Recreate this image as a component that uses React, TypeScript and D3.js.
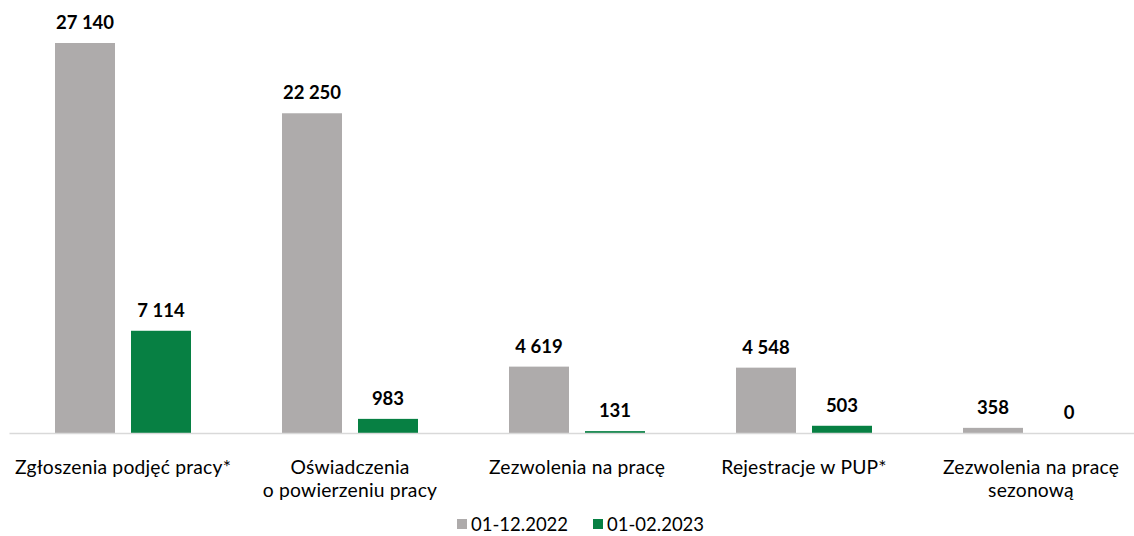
import React from "react";
import * as d3 from "d3";

const categories = [
  ["Zgłoszenia podjęć pracy*"],
  ["Oświadczenia", "o powierzeniu pracy"],
  ["Zezwolenia na pracę"],
  ["Rejestracje w PUP*"],
  ["Zezwolenia na pracę", "sezonową"],
];
const series = ["01-12.2022", "01-02.2023"];
const values2022 = [27140, 22250, 4619, 4548, 358];
const values2023 = [7114, 983, 131, 503, 0];
const colors = ["#AEABAB", "#078043"];

const W = 1134;
const H = 536;
const fmt = (v: number) => d3.format(",")(v).replace(/,/g, " ");

export default function App() {
  const x = d3
    .scaleBand<number>()
    .domain(d3.range(categories.length))
    .range([9.5, 1144.5]);
  const y = d3.scaleLinear().domain([0, 27140]).range([433, 43]);
  const barW = 60;
  const gap = 16;
  const data = [values2022, values2023];
  const font = "Lato, 'Open Sans', sans-serif";

  return (
    <svg
      width={W}
      height={H}
      style={{ position: "absolute", left: 0, top: 0 }}
      fontFamily={font}
    >
      <rect width={W} height={H} fill="#fff" />
      {categories.map((cat, i) => {
        const c = x(i)! + x.bandwidth() / 2;
        return (
          <g key={i}>
            {data.map((vals, s) => {
              const bx = c - gap / 2 - barW + s * (barW + gap);
              const v = vals[i];
              return (
                <g key={s}>
                  <rect
                    x={bx}
                    y={y(v)}
                    width={barW}
                    height={y(0) - y(v)}
                    fill={colors[s]}
                  />
                  <text
                    x={bx + barW / 2}
                    y={y(v) - 14}
                    textAnchor="middle"
                    fontWeight="bold"
                    fontSize={18.5}
                    fill="#000"
                  >
                    {fmt(v)}
                  </text>
                </g>
              );
            })}
            {cat.map((line, li) => (
              <text
                key={li}
                x={c}
                y={474 + li * 23}
                textAnchor="middle"
                fontSize={19.3}
                letterSpacing={0.2}
                fill="#000"
              >
                {line}
              </text>
            ))}
          </g>
        );
      })}
      <line x1={9.5} x2={W} y1={433.5} y2={433.5} stroke="#D9D9D9" strokeWidth={1.5} />
      {series.map((s, i) => {
        const lx = [457, 593][i];
        return (
          <g key={s}>
            <rect x={lx} y={519} width={10} height={10} fill={colors[i]} />
            <text x={lx + 14} y={531} fontSize={18.5} fill="#000">
              {s}
            </text>
          </g>
        );
      })}
    </svg>
  );
}
